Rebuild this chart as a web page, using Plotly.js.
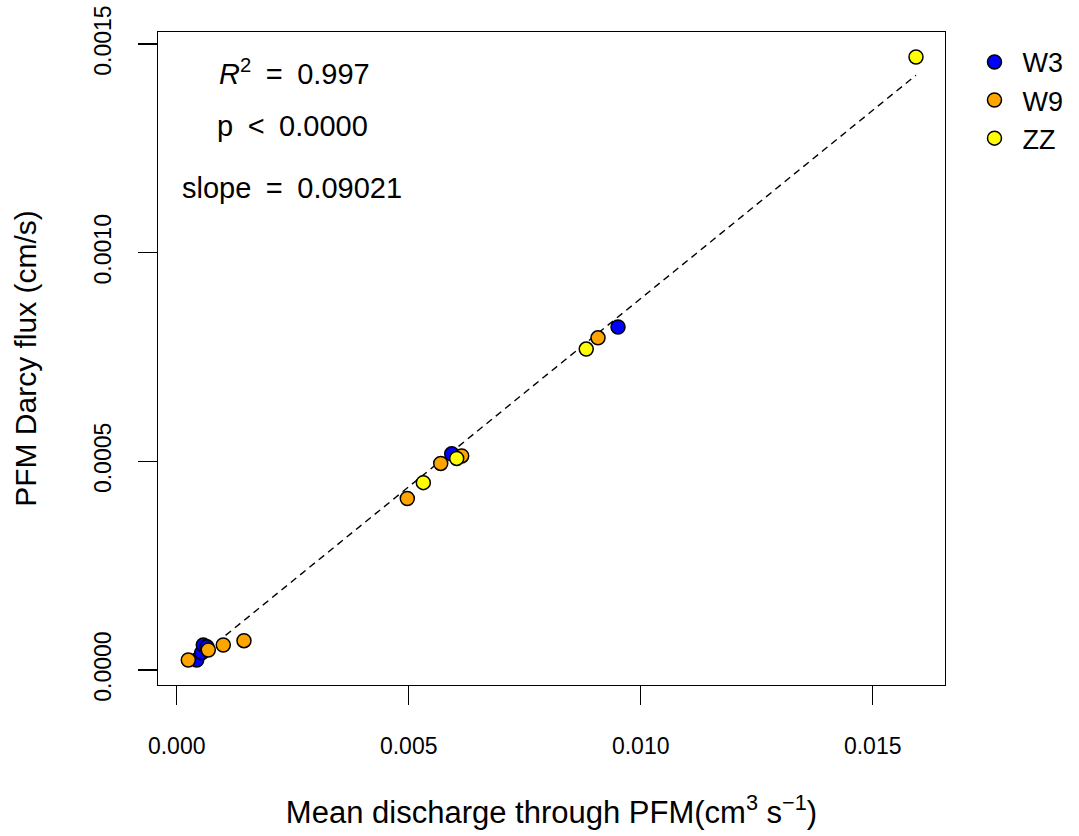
<!DOCTYPE html>
<html>
<head>
<meta charset="utf-8">
<script src="https://cdn.plot.ly/plotly-3.0.1.min.js"></script>
<style>html,body{margin:0;padding:0;background:#fff;}#chart{width:1079px;height:836px;}</style>
</head>
<body>
<div id="chart"></div>
<script>
// Data
const w3X = [0.000431, 0.000539, 0.000573, 0.000650, 0.005927, 0.009511];
const w3Y = [0.0000240, 0.0000415, 0.0000599, 0.0000560, 0.000518, 0.000822];
const w9X = [0.000250, 0.000681, 0.001004, 0.001450, 0.004970, 0.005690, 0.006142, 0.009080];
const w9Y = [0.0000240, 0.0000479, 0.0000599, 0.0000703, 0.000411, 0.000495, 0.000513, 0.000796];
const zzX = [0.005315, 0.006034, 0.008826, 0.015933];
const zzY = [0.000449, 0.000507, 0.000769, 0.001469];
const seriesNames = ['W3', 'W9', 'ZZ'];
const seriesColors = ['#0000FF', '#FFA500', '#FFFF00'];
const fitSlope = 0.09021;
const fitIntercept = -0.000012;
const xTickVals = [0, 0.005, 0.010, 0.015];
const xTickText = ['0.000', '0.005', '0.010', '0.015'];
const yTickVals = [0, 0.0005, 0.0010, 0.0015];
const yTickText = ['0.0000', '0.0005', '0.0010', '0.0015'];

const allX = w3X.concat(w9X, zzX);
const xMin = Math.min(...allX), xMax = Math.max(...allX);

const font = 'Liberation Sans, Arial, sans-serif';
const sp = '\u2002';

const traces = [
  {
    x: [xMin, xMax],
    y: [fitIntercept + fitSlope * xMin, fitIntercept + fitSlope * xMax],
    mode: 'lines', type: 'scatter', showlegend: false, hoverinfo: 'skip',
    line: {color: '#000', width: 1.4, dash: '7px,5px'}
  }
];
[[w3X, w3Y], [w9X, w9Y], [zzX, zzY]].forEach((d, i) => {
  traces.push({
    x: d[0], y: d[1], name: seriesNames[i], mode: 'markers', type: 'scatter',
    marker: {size: 14, color: seriesColors[i], line: {color: '#000', width: 1.5}}
  });
});

const layout = {
  width: 1079, height: 836,
  paper_bgcolor: '#fff', plot_bgcolor: '#fff',
  margin: {l: 158, r: 134, t: 32, b: 151, autoexpand: false},
  font: {family: font, color: '#000', size: 23},
  showlegend: true,
  legend: {x: 1.0273, y: 0.991, xanchor: 'left', yanchor: 'top', itemwidth: 46, font: {size: 27, family: font}, bgcolor: 'rgba(0,0,0,0)', tracegroupgap: 0},
  xaxis: {
    range: [-0.000403, 0.016558], showgrid: false, zeroline: false,
    showline: true, mirror: true, linecolor: '#000', linewidth: 1.3,
    ticks: 'outside', ticklen: 19, tickwidth: 1.3, tickcolor: '#000',
    tickvals: xTickVals, ticktext: xTickText, tickfont: {size: 23},
    ticklabelstandoff: 21,
    title: {text: 'Mean discharge through PFM(cm<sup>3</sup> s<sup>\u22121</sup>)', font: {size: 31}, standoff: 43}
  },
  yaxis: {
    range: [-0.0000359, 0.0015288], showgrid: false, zeroline: false,
    showline: true, mirror: true, linecolor: '#000', linewidth: 1.3,
    ticks: 'outside', ticklen: 19, tickwidth: 1.3, tickcolor: '#000',
    tickvals: yTickVals, ticktext: yTickText, tickfont: {size: 23}, tickangle: -90,
    ticklabelstandoff: 18,
    title: {text: 'PFM Darcy flux (cm/s)', font: {size: 30}, standoff: 44}
  },
  annotations: [
    {xref: 'paper', yref: 'paper', x: (294 - 158) / 787, y: (685 - 72) / 653, text: '<i>R</i><sup>2</sup>' + sp + '=' + sp + '0.997', showarrow: false, font: {size: 29}, xanchor: 'center', yanchor: 'middle'},
    {xref: 'paper', yref: 'paper', x: (292.5 - 158) / 787, y: (685 - 126) / 653, text: 'p' + sp + '<' + sp + '0.0000', showarrow: false, font: {size: 29}, xanchor: 'center', yanchor: 'middle'},
    {xref: 'paper', yref: 'paper', x: (292 - 158) / 787, y: (685 - 188) / 653, text: 'slope' + sp + '=' + sp + '0.09021', showarrow: false, font: {size: 29}, xanchor: 'center', yanchor: 'middle'}
  ]
};

Plotly.newPlot('chart', traces, layout, {displayModeBar: false, staticPlot: true});
</script>
</body>
</html>
